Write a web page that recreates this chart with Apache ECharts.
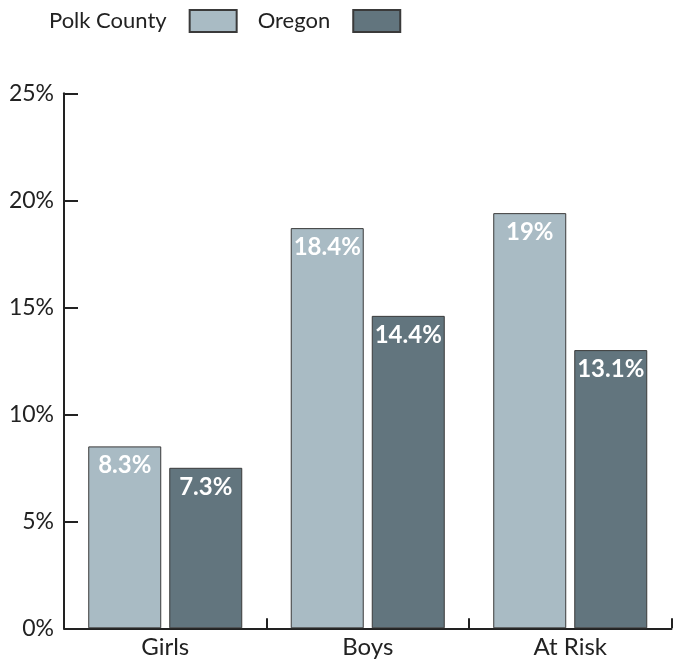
<!DOCTYPE html>
<html>
<head>
<meta charset="utf-8">
<script src="https://cdn.jsdelivr.net/npm/echarts@6/dist/echarts.min.js"></script>
<style>
html,body{margin:0;padding:0;background:#fff;}
#chart{width:673px;height:662px;}
</style>
</head>
<body>
<div id="chart"></div>
<script>
var categories = ['Girls', 'Boys', 'At Risk'];
var seriesNames = ['Polk County', 'Oregon'];
// bar heights as drawn in the picture (percent)
var polkValues = [8.5, 18.7, 19.4];
var oregonValues = [7.5, 14.6, 13.0];
// printed labels on the bars
var polkLabels = ['8.3%', '18.4%', '19%'];
var oregonLabels = ['7.3%', '14.4%', '13.1%'];
var yTicks = [0, 5, 10, 15, 20, 25];

var FONT = 'Lato, "Open Sans", sans-serif';
var chart = echarts.init(document.getElementById('chart'));

function barSeries(name, values, labels, color) {
  return {
    name: name,
    type: 'bar',
    data: values,
    barWidth: 73,
    barGap: '11%',
    itemStyle: { color: color, borderColor: '#3a3a3a', borderWidth: 1 },
    label: {
      show: true,
      position: 'insideTop',
      distance: 7,
      color: '#ffffff',
      fontFamily: FONT,
      fontWeight: 'bold',
      fontSize: 24,
      formatter: function (p) { return labels[p.dataIndex]; }
    },
    emphasis: { disabled: true }
  };
}

chart.setOption({
  animation: false,
  backgroundColor: '#ffffff',
  legend: {
    left: 44,
    top: 4,
    align: 'right',
    icon: 'rect',
    itemWidth: 47,
    itemHeight: 22,
    itemGap: 20,
    data: seriesNames,
    textStyle: {
      color: '#222',
      fontFamily: FONT,
      fontSize: 22,
      padding: [0, 18, 0, 0]
    }
  },
  grid: { left: 64, right: 1.5, top: 93.3, bottom: 33.7, containLabel: false },
  xAxis: {
    type: 'category',
    data: categories,
    axisLine: { lineStyle: { color: '#222', width: 2 } },
    axisTick: { show: true, inside: true, length: 10, lineStyle: { color: '#222', width: 2 } },
    axisLabel: { color: '#222', fontFamily: FONT, fontSize: 24, margin: 7 },
    splitLine: { show: false }
  },
  yAxis: {
    type: 'value',
    min: yTicks[0],
    max: yTicks[yTicks.length - 1],
    interval: 5,
    axisLine: { show: true, lineStyle: { color: '#222', width: 2 } },
    axisTick: { show: true, inside: true, length: 14, lineStyle: { color: '#222', width: 2 } },
    axisLabel: { color: '#222', fontFamily: FONT, fontSize: 23, margin: 10, formatter: '{value}%' },
    splitLine: { show: false }
  },
  series: [
    barSeries(seriesNames[0], polkValues, polkLabels, '#a9bbc4'),
    barSeries(seriesNames[1], oregonValues, oregonLabels, '#62757e')
  ]
});
</script>
</body>
</html>
